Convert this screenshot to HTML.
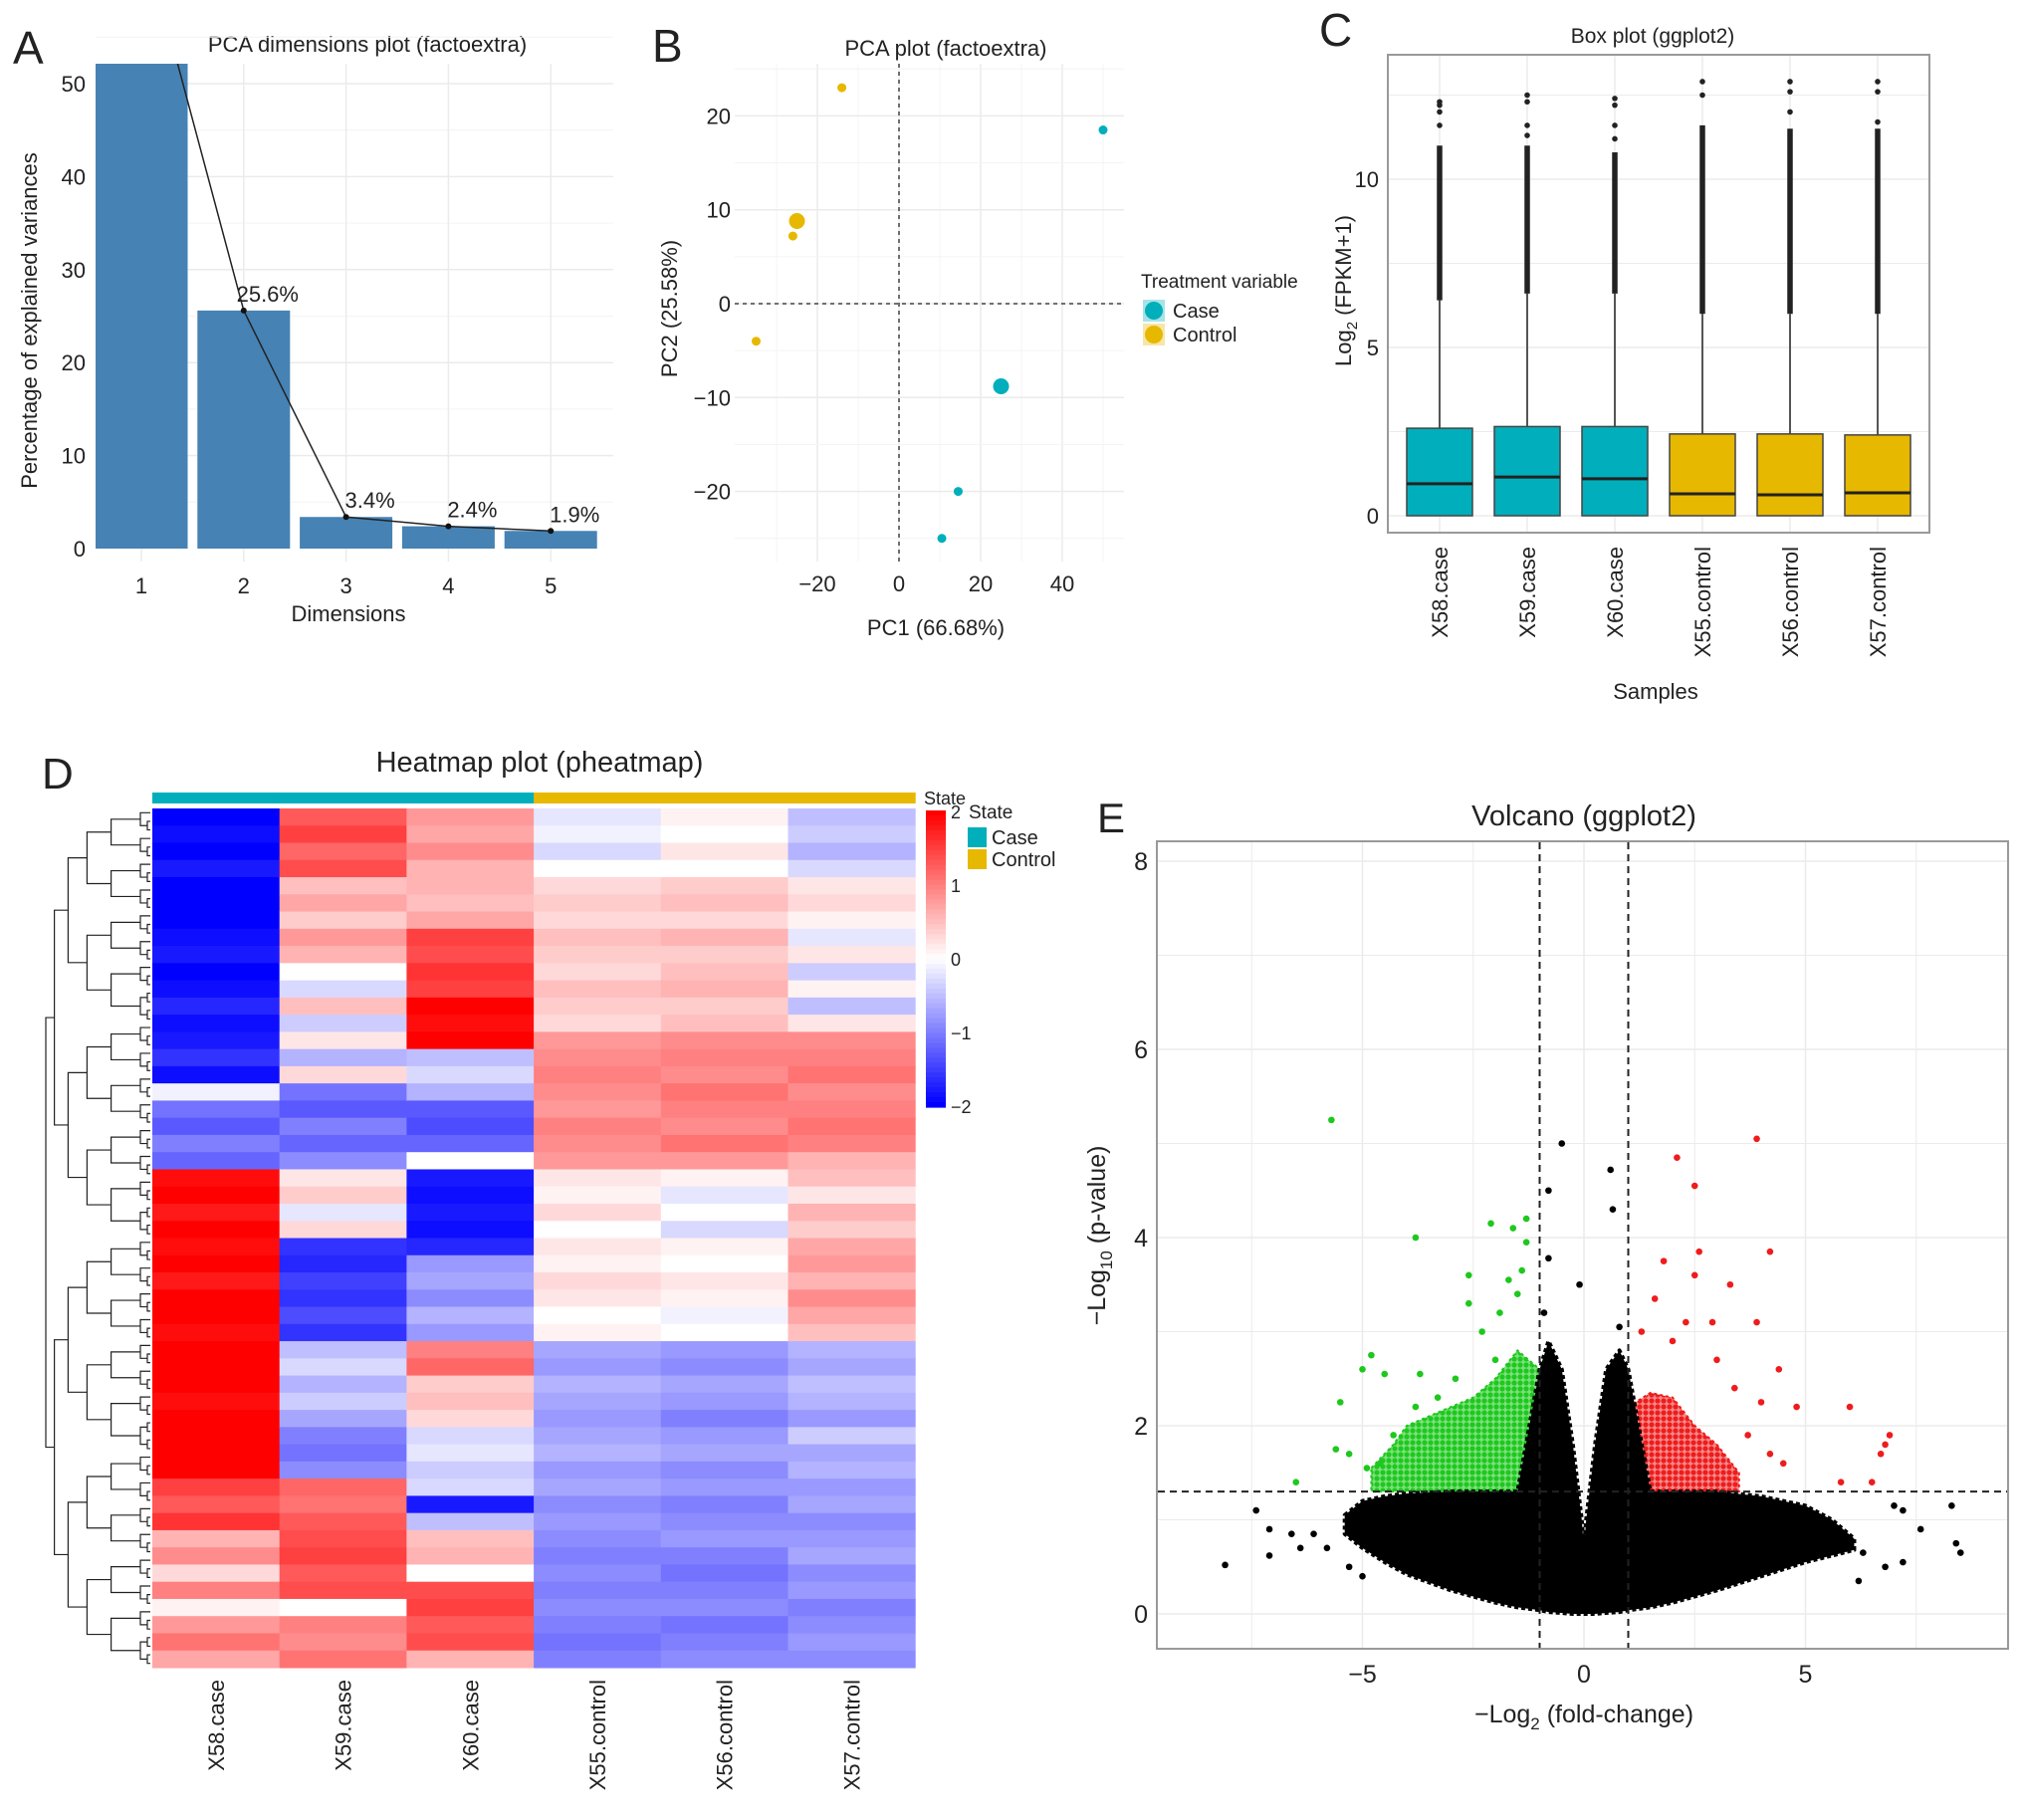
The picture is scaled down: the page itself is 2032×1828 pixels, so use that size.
<!DOCTYPE html>
<html><head><meta charset="utf-8"><style>
html,body{margin:0;padding:0;background:#fff}
svg text{font-family:"Liberation Sans",sans-serif;fill:#222}
</style></head><body>
<svg id="fig" width="2032" height="1823" viewBox="0 0 2032 1823" xmlns="http://www.w3.org/2000/svg">
<defs><clipPath id="clipA"><rect x="96" y="64" width="520" height="500"/></clipPath>
<clipPath id="clipE"><rect x="1162" y="845" width="855" height="811"/></clipPath>
<pattern id="patG" width="6" height="6" patternUnits="userSpaceOnUse"><rect width="6" height="6" fill="#7ee07e"/><circle cx="3" cy="3" r="2.6" fill="#1ec81e"/></pattern>
<pattern id="patR" width="6" height="6" patternUnits="userSpaceOnUse"><rect width="6" height="6" fill="#f58a8a"/><circle cx="3" cy="3" r="2.6" fill="#ee1c1c"/></pattern>
</defs>
<g id="pA"></g>
<g id="pB"></g>
<g id="pC"></g>
<g id="pD"></g>
<g id="pE"></g>
</svg>
<script>
// ---------- Panel A data ----------
const dimCats = [1,2,3,4,5];
const dimVals = [66.7,25.6,3.4,2.4,1.9];
const dimLabels = ["","25.6%","3.4%","2.4%","1.9%"];
const dimTicks = [0,10,20,30,40,50];
// ---------- Panel B data ----------
const pcaX = [-14,-25,-26,-35,50,25,14.5,10.5];
const pcaY = [23,8.8,7.2,-4,18.5,-8.8,-20,-25];
const pcaGroup = ["Control","Control","Control","Control","Case","Case","Case","Case"];
const pcaBig = [0,1,0,0,0,1,0,0];
const pcaXTicks = [-20,0,20,40];
const pcaYTicks = [20,10,0,-10,-20];
// ---------- Panel C data ----------
const boxSamples = ["X58.case","X59.case","X60.case","X55.control","X56.control","X57.control"];
const boxGroup = ["Case","Case","Case","Control","Control","Control"];
const boxQ1 = [0,0,0,0,0,0];
const boxMed = [0.95,1.15,1.1,0.65,0.62,0.68];
const boxQ3 = [2.6,2.65,2.65,2.43,2.43,2.4];
const boxWhisk = [6.4,6.6,6.6,6.0,6.0,6.0];
const boxDenseMax = [11.0,11.0,10.8,11.6,11.5,11.5];
const boxSparse = [[11.6,12.0,12.2,12.3],[11.3,11.6,12.3,12.5],[11.2,11.6,12.2,12.4],[12.5,12.9],[12.0,12.6,12.9],[11.7,12.6,12.9]];
const boxTicks = [0,5,10];
// ---------- Panel D data ----------
const hmSamples = ["X58.case","X59.case","X60.case","X55.control","X56.control","X57.control"];
const hmX58 = [-2,-1.9,-2,-1.8,-2,-2,-2,-1.9,-1.8,-2,-1.9,-1.7,-1.9,-1.8,-1.6,-1.9,-0.1,-1.1,-1.3,-1.0,-1.2,1.9,2,1.8,2,1.9,2,1.8,2,2,1.9,2,2,2,1.9,2,2,2,2,1.5,1.3,1.6,0.6,0.9,0.3,1.0,0.1,0.8,1.1,0.7];
const hmX59 = [1.3,1.5,1.2,1.4,0.5,0.7,0.4,0.8,0.6,0,-0.3,0.5,-0.4,0.2,-0.6,0.3,-1.1,-1.3,-1.0,-1.2,-0.9,0.2,0.4,-0.2,0.3,-1.6,-1.7,-1.5,-1.6,-1.4,-1.6,-0.5,-0.3,-0.6,-0.4,-0.7,-1.0,-1.1,-0.9,1.2,1.1,1.3,1.4,1.5,1.3,1.4,0,1.0,0.9,1.1];
const hmX60 = [0.8,0.7,0.9,0.6,0.6,0.5,0.7,1.5,1.4,1.6,1.5,2,1.9,2,-0.5,-0.3,-0.6,-1.3,-1.4,-1.2,0,-1.8,-1.9,-1.8,-1.9,-1.7,-0.8,-0.7,-0.9,-0.6,-0.8,1.0,1.2,0.4,0.5,0.3,-0.3,-0.2,-0.4,-0.3,-1.8,-0.5,0.5,0.6,0,1.4,1.5,1.3,1.4,0.6];
const hmX55 = [-0.2,-0.1,-0.3,0,0.3,0.4,0.3,0.5,0.4,0.3,0.5,0.4,0.3,0.8,0.9,1.0,0.9,0.8,1.0,0.9,0.8,0.2,0.1,0.3,0,0.2,0.1,0.3,0.2,0,0.1,-0.7,-0.8,-0.6,-0.7,-0.8,-0.7,-0.6,-0.8,-0.7,-0.9,-0.8,-0.9,-1.0,-0.9,-1.0,-0.9,-1.0,-1.1,-1.0];
const hmX56 = [0.1,0,0.2,0,0.4,0.5,0.3,0.6,0.4,0.5,0.6,0.4,0.5,0.9,1.0,0.9,1.1,1.0,0.9,1.1,0.8,0.1,-0.2,0,-0.3,0.1,0,0.2,0.1,-0.1,0,-0.8,-0.9,-0.7,-0.8,-1.0,-0.8,-0.7,-0.9,-0.8,-1.0,-0.9,-0.8,-1.0,-1.1,-1.0,-0.9,-1.1,-1.0,-0.9];
const hmX57 = [-0.5,-0.4,-0.6,-0.3,0.2,0.3,0.1,-0.2,0.2,-0.4,0.1,-0.5,0.2,0.9,1.0,1.1,0.9,1.0,1.1,1.0,0.6,0.5,0.2,0.6,0.4,0.7,0.8,0.6,0.9,0.7,0.5,-0.6,-0.7,-0.5,-0.6,-0.8,-0.4,-0.7,-0.6,-0.8,-0.7,-0.9,-0.8,-0.7,-0.9,-0.8,-1.0,-0.9,-0.8,-0.9];
const hmColTicks = [2,1,0,-1,-2];
// ---------- Panel E data ----------
const cloudX = [-5.4,-5,-4.5,-4,-3,-2,-1.5,-1,-0.8,-0.5,-0.25,-0.05,0,0.05,0.25,0.5,0.8,1,1.5,2,3,4,5,5.6,6.1];
const cloudTop = [1.05,1.2,1.25,1.28,1.3,1.3,1.3,2.6,2.9,2.6,1.8,1.0,0.7,1.0,1.8,2.6,2.8,2.6,1.3,1.3,1.3,1.25,1.15,1.0,0.8];
const cloudBot = [0.85,0.7,0.55,0.42,0.25,0.12,0.07,0.04,0.02,0.01,0,0,0,0,0,0.01,0.02,0.04,0.07,0.12,0.25,0.4,0.55,0.62,0.68];
const greenX = [-4.8,-4.3,-4,-3.5,-3,-2.5,-2,-1.5,-1];
const greenTop = [1.55,1.8,2.0,2.1,2.2,2.3,2.5,2.8,2.6];
const redX = [1,1.5,2,2.5,3,3.5];
const redTop = [2.2,2.35,2.3,2.0,1.8,1.5];
const upX = [-5.7,-3.8,-2.1,-1.6,-1.3,-1.3,-1.4,-2.6,-1.7,-2.6,-4.8,-5.0,-4.5,-3.7,-2.9,-5.5,-5.6,-5.3,-6.5,-3.8,-2.3,-1.9,-1.5,-4.3,-4.6,-4.9,-2.0,-3.3];
const upY = [5.25,4.0,4.15,4.1,4.2,3.95,3.65,3.6,3.55,3.3,2.75,2.6,2.55,2.55,2.5,2.25,1.75,1.7,1.4,2.2,3.0,3.2,3.4,1.9,1.6,1.55,2.7,2.3];
const dnX = [3.9,2.1,2.5,4.2,2.6,1.8,3.3,2.5,3.9,1.6,2.9,2.3,4.4,6.0,4.0,4.8,6.9,6.8,6.7,5.8,6.5,4.5,4.2,3.7,3.4,3.0,1.3,2.0];
const dnY = [5.05,4.85,4.55,3.85,3.85,3.75,3.5,3.6,3.1,3.35,3.1,3.1,2.6,2.2,2.25,2.2,1.9,1.8,1.7,1.4,1.4,1.6,1.7,1.9,2.4,2.7,3.0,2.9];
const nsX = [-0.5,0.6,0.65,-0.8,-0.8,-0.1,-8.1,-7.4,-7.1,-7.1,-6.6,-6.4,-6.1,-5.8,8.3,8.4,8.5,7.6,7.0,7.2,6.8,6.3,6.2,7.2,5.5,5.2,-5.3,-5.0,-0.9,0.8];
const nsY = [5.0,4.72,4.3,4.5,3.78,3.5,0.52,1.1,0.9,0.62,0.85,0.7,0.85,0.7,1.15,0.75,0.65,0.9,1.15,0.55,0.5,0.65,0.35,1.1,0.7,0.9,0.5,0.4,3.2,3.05];
const volXTicks = [-5,0,5];
const volYTicks = [0,2,4,6,8];

const NS="http://www.w3.org/2000/svg";
function mk(parent,tag,attrs,text){const e=document.createElementNS(NS,tag);for(const k in attrs)e.setAttribute(k,attrs[k]);if(text!==undefined)e.textContent=text;parent.appendChild(e);return e;}
const pA=document.getElementById('pA'),pB=document.getElementById('pB'),pC=document.getElementById('pC'),pD=document.getElementById('pD'),pE=document.getElementById('pE');
let t;
// ================= Panel A =================
const xA=d=>142+(d-1)*102.8, yA=v=>551-v*9.34;
t=mk(pA,'text',{x:13,y:64,'font-size':46});t.textContent='A';


t=mk(pA,'text',{x:369,y:52,'font-size':22,'text-anchor':'middle'},'PCA dimensions plot (factoextra)');


for(let v=5;v<=55;v+=5){const l=mk(pA,'line',{x1:96,x2:616,y1:yA(v),y2:yA(v),stroke:v%10?'#f4f4f4':'#ebebeb','stroke-width':v%10?1:1.5});

}
dimCats.forEach(d=>{const l=mk(pA,'line',{x1:xA(d),x2:xA(d),y1:64,y2:564,stroke:'#ebebeb','stroke-width':1.5});

});
dimTicks.forEach(v=>{const e=mk(pA,'text',{x:86,y:yA(v)+8,'font-size':22,'text-anchor':'end',fill:'#444'},String(v));

});
const gBars=mk(pA,'g',{'clip-path':'url(#clipA)'});
dimCats.forEach((d,i)=>{const r=mk(gBars,'rect',{x:xA(d)-46.5,y:yA(dimVals[i]),width:93,height:yA(0)-yA(dimVals[i]),fill:'#4682b4'});

});
let pts=dimCats.map((d,i)=>xA(d)+','+yA(dimVals[i])).join(' ');
const poly=mk(gBars,'polyline',{points:pts,fill:'none',stroke:'#222','stroke-width':1.5});


dimCats.forEach((d,i)=>{const c=mk(gBars,'circle',{cx:xA(d),cy:yA(dimVals[i]),r:3,fill:'#111'});


if(dimLabels[i]){const e=mk(pA,'text',{x:xA(d)+24,y:yA(dimVals[i])-9,'font-size':22,'text-anchor':'middle',fill:'#333'},dimLabels[i]);

}
const e2=mk(pA,'text',{x:xA(d),y:596,'font-size':22,'text-anchor':'middle',fill:'#444'},String(d));

});
t=mk(pA,'text',{x:350,y:624,'font-size':22,'text-anchor':'middle',fill:'#333'},'Dimensions');


t=mk(pA,'text',{x:0,y:0,'font-size':22,'text-anchor':'middle',fill:'#333',transform:'translate(37,322) rotate(-90)'},'Percentage of explained variances');


// ================= Panel B =================
const xB=v=>903+v*4.1, yB=v=>305-v*9.43;
const colCase='#00afbb', colCtrl='#e7b800';
t=mk(pB,'text',{x:655,y:62,'font-size':46},'B');


t=mk(pB,'text',{x:950,y:56,'font-size':22,'text-anchor':'middle'},'PCA plot (factoextra)');


for(let v=-30;v<=50;v+=10){const l=mk(pB,'line',{x1:xB(v),x2:xB(v),y1:64,y2:564,stroke:v%20?'#f4f4f4':'#ebebeb','stroke-width':v%20?1:1.5});

}
for(let v=-25;v<=25;v+=5){const l=mk(pB,'line',{x1:738,x2:1129,y1:yB(v),y2:yB(v),stroke:v%10?'#f4f4f4':'#ebebeb','stroke-width':v%10?1:1.5});

}
t=mk(pB,'line',{x1:xB(0),x2:xB(0),y1:64,y2:564,stroke:'#444','stroke-width':1.5,'stroke-dasharray':'4,4'});


t=mk(pB,'line',{x1:738,x2:1129,y1:yB(0),y2:yB(0),stroke:'#444','stroke-width':1.5,'stroke-dasharray':'4,4'});


pcaXTicks.forEach(v=>{const e=mk(pB,'text',{x:xB(v),y:594,'font-size':22,'text-anchor':'middle',fill:'#444'},v<0?'\u2212'+(-v):String(v));

});
pcaYTicks.forEach(v=>{const e=mk(pB,'text',{x:734,y:yB(v)+8,'font-size':22,'text-anchor':'end',fill:'#444'},v<0?'\u2212'+(-v):String(v));

});
pcaX.forEach((v,i)=>{const c=mk(pB,'circle',{cx:xB(v),cy:yB(pcaY[i]),r:pcaBig[i]?8:4.5,fill:pcaGroup[i]==='Case'?colCase:colCtrl});

});
t=mk(pB,'text',{x:940,y:638,'font-size':22,'text-anchor':'middle',fill:'#333'},'PC1 (66.68%)');


t=mk(pB,'text',{x:0,y:0,'font-size':22,'text-anchor':'middle',fill:'#333',transform:'translate(680,310) rotate(-90)'},'PC2 (25.58%)');


t=mk(pB,'text',{x:1146,y:289,'font-size':19,fill:'#333'},'Treatment variable');


[['Case',colCase,312],['Control',colCtrl,336]].forEach(a=>{
const r=mk(pB,'rect',{x:1148,y:a[2]-11,width:22,height:22,fill:a[1],opacity:0.35});


mk(pB,'circle',{cx:1159,cy:a[2],r:9,fill:a[1]});
const e=mk(pB,'text',{x:1178,y:a[2]+7,'font-size':20,fill:'#333'},a[0]);

});
// ================= Panel C =================
const xC=i=>1446+i*88, yC=v=>518-v*33.8;
t=mk(pC,'text',{x:1325,y:46,'font-size':46},'C');


t=mk(pC,'text',{x:1660,y:43,'font-size':21,'text-anchor':'middle'},'Box plot (ggplot2)');


t=mk(pC,'rect',{x:1394,y:55,width:544,height:480,fill:'#fff',stroke:'#999','stroke-width':2});


for(let v=0;v<=12.5;v+=2.5){const l=mk(pC,'line',{x1:1395,x2:1937,y1:yC(v),y2:yC(v),stroke:'#ebebeb','stroke-width':v%5?1:1.5});

}
boxSamples.forEach((s,i)=>{const l=mk(pC,'line',{x1:xC(i),x2:xC(i),y1:56,y2:534,stroke:'#ebebeb','stroke-width':1.5});

});
boxTicks.forEach(v=>{const e=mk(pC,'text',{x:1385,y:yC(v)+8,'font-size':22,'text-anchor':'end',fill:'#444'},String(v));

});
boxSamples.forEach((s,i)=>{const x=xC(i);
const w=mk(pC,'line',{x1:x,x2:x,y1:yC(boxQ3[i]),y2:yC(boxWhisk[i]),stroke:'#555','stroke-width':2});


const d=mk(pC,'line',{x1:x,x2:x,y1:yC(boxWhisk[i]),y2:yC(boxDenseMax[i]),stroke:'#222','stroke-width':5.5});


boxSparse[i].forEach(v=>{const c=mk(pC,'circle',{cx:x,cy:yC(v),r:2.8,fill:'#222'});

});
const r=mk(pC,'rect',{x:x-33,y:yC(boxQ3[i]),width:66,height:yC(boxQ1[i])-yC(boxQ3[i]),fill:boxGroup[i]==='Case'?colCase:colCtrl,stroke:'#444','stroke-width':1.5});


const m=mk(pC,'line',{x1:x-33,x2:x+33,y1:yC(boxMed[i]),y2:yC(boxMed[i]),stroke:'#222','stroke-width':3});


const e=mk(pC,'text',{x:0,y:0,'font-size':22,'text-anchor':'end',fill:'#222',transform:`translate(${x+8},549) rotate(-90)`},s);

});
t=mk(pC,'text',{x:1663,y:702,'font-size':22,'text-anchor':'middle',fill:'#333'},'Samples');


t=mk(pC,'text',{x:0,y:0,'font-size':22,'text-anchor':'middle',fill:'#333',transform:'translate(1357,292) rotate(-90)'});
t.innerHTML='Log<tspan font-size="15" dy="6">2</tspan><tspan dy="-6"> (FPKM+1)</tspan>';


// ================= Panel D =================
const hmCols=[hmX58,hmX59,hmX60,hmX55,hmX56,hmX57];
const hx0=153, hcw=127.7, hy0=812, hH=863, nR=hmX58.length, rh=hH/nR;
const xD=j=>hx0+j*hcw, yD=r=>hy0+r*rh;
function hcol(v){v=Math.max(-2,Math.min(2,v));let r,g,b;if(v>=0){const f=v/2;r=255;g=Math.round(255*(1-f));b=g;}else{const f=-v/2;b=255;r=Math.round(255*(1-f));g=r;}return `rgb(${r},${g},${b})`;}
t=mk(pD,'text',{x:42,y:792,'font-size':44},'D');


t=mk(pD,'text',{x:542,y:775,'font-size':29,'text-anchor':'middle'},'Heatmap plot (pheatmap)');


hmSamples.forEach((s,j)=>{const a=mk(pD,'rect',{x:xD(j),y:796,width:hcw+0.5,height:11,fill:j<3?colCase:colCtrl});


hmCols[j].forEach((v,r)=>{const c=mk(pD,'rect',{x:xD(j),y:yD(r),width:hcw+0.5,height:rh+0.5,fill:hcol(v)});

});
const e=mk(pD,'text',{x:0,y:0,'font-size':22,'text-anchor':'end',fill:'#222',transform:`translate(${xD(j)+hcw/2+8},1687) rotate(-90)`},s);

});
const gDen=mk(pD,'g',{stroke:'#222','stroke-width':1.2,fill:'none'});


const nLeaves=nR*2;
function tree(a,b,depth){
 if(b-a<=1){const y=hy0+(a+0.5)*hH/nLeaves;return [y,hx0-2];}
 const m=Math.floor((a+b)/2);const L=tree(a,m,depth+1),R=tree(m,b,depth+1);
 const x=46+depth*depth*2.6+depth*6;const xx=Math.min(x,Math.min(L[1],R[1])-3);
 mk(gDen,'path',{d:`M${L[1]},${L[0]}H${xx}V${R[0]}H${R[1]}`});return [(L[0]+R[0])/2,xx];}
tree(0,nLeaves,0);
const gL=mk(pD,'g',{});


for(let k=0;k<60;k++){const v=2-4*k/59;mk(gL,'rect',{x:930,y:814+k*298/60,width:20,height:298/60+0.6,fill:hcol(v)});}
hmColTicks.forEach(v=>{const e=mk(pD,'text',{x:955,y:963-v*74+7,'font-size':18,fill:'#222'},v<0?'\u2212'+(-v):String(v));

});
t=mk(pD,'text',{x:928,y:808,'font-size':18,fill:'#222'},'State');


t=mk(pD,'text',{x:973,y:822,'font-size':19,fill:'#222'},'State');


[['Case',colCase,831],['Control',colCtrl,853]].forEach(a=>{const r=mk(pD,'rect',{x:972,y:a[2],width:19,height:20,fill:a[1]});


const e=mk(pD,'text',{x:996,y:a[2]+17,'font-size':20,fill:'#222'},a[0]);

});
// ================= Panel E =================
const xE=v=>1591+v*44.5, yE=v=>1621-v*94.5;
t=mk(pE,'text',{x:1102,y:836,'font-size':42},'E');


t=mk(pE,'text',{x:1591,y:829,'font-size':29,'text-anchor':'middle'},'Volcano (ggplot2)');


for(let v=-10;v<=10;v+=2.5){const l=mk(pE,'line',{x1:xE(v),x2:xE(v),y1:846,y2:1655,stroke:'#ebebeb','stroke-width':v%5?1:1.5,'clip-path':'url(#clipE)'});

}
for(let v=-1;v<=9;v+=1){const l=mk(pE,'line',{x1:1163,x2:2016,y1:yE(v),y2:yE(v),stroke:'#ebebeb','stroke-width':v%2?1:1.5,'clip-path':'url(#clipE)'});

}
volYTicks.forEach(v=>{const e=mk(pE,'text',{x:1153,y:yE(v)+9,'font-size':25,'text-anchor':'end',fill:'#444'},String(v));

});
volXTicks.forEach(v=>{const e=mk(pE,'text',{x:xE(v),y:1690,'font-size':25,'text-anchor':'middle',fill:'#444'},v<0?'\u2212'+(-v):String(v));

});
const gV=mk(pE,'g',{'clip-path':'url(#clipE)'});
function areaPath(xs,top,bot){let d='M'+xs.map((x,i)=>xE(x)+','+yE(top[i])).join('L');for(let i=xs.length-1;i>=0;i--)d+='L'+xE(xs[i])+','+yE(typeof bot==='number'?bot:bot[i]);return d+'Z';}
t=mk(gV,'path',{d:areaPath(greenX,greenTop,1.3),fill:'url(#patG)',stroke:'#1ec81e','stroke-width':2,'stroke-dasharray':'3,3'});


t=mk(gV,'path',{d:areaPath(redX,redTop,1.3),fill:'url(#patR)',stroke:'#ee1c1c','stroke-width':2,'stroke-dasharray':'3,3'});


t=mk(gV,'path',{d:areaPath(cloudX,cloudTop,cloudBot),fill:'#000',stroke:'#000','stroke-width':4,'stroke-linejoin':'round','stroke-dasharray':'4,3'});


upX.forEach((v,i)=>{const c=mk(gV,'circle',{cx:xE(v),cy:yE(upY[i]),r:3.3,fill:'#1ec81e'});

});
dnX.forEach((v,i)=>{const c=mk(gV,'circle',{cx:xE(v),cy:yE(dnY[i]),r:3.3,fill:'#ee1c1c'});

});
nsX.forEach((v,i)=>{const c=mk(gV,'circle',{cx:xE(v),cy:yE(nsY[i]),r:3.3,fill:'#000'});

});
[-1,1].forEach(v=>{const l=mk(pE,'line',{x1:xE(v),x2:xE(v),y1:846,y2:1655,stroke:'#222','stroke-width':2,'stroke-dasharray':'7,5'});

});
t=mk(pE,'line',{x1:1163,x2:2016,y1:yE(1.3),y2:yE(1.3),stroke:'#222','stroke-width':2,'stroke-dasharray':'7,5'});


t=mk(pE,'rect',{x:1162,y:845,width:855,height:811,fill:'none',stroke:'#999','stroke-width':2});


t=mk(pE,'text',{x:1591,y:1730,'font-size':25,'text-anchor':'middle',fill:'#333'});
t.innerHTML='\u2212Log<tspan font-size="17" dy="7">2</tspan><tspan dy="-7"> (fold-change)</tspan>';


t=mk(pE,'text',{x:0,y:0,'font-size':25,'text-anchor':'middle',fill:'#333',transform:'translate(1110,1241) rotate(-90)'});
t.innerHTML='\u2212Log<tspan font-size="17" dy="7">10</tspan><tspan dy="-7"> (p-value)</tspan>';


</script>
</body></html>
